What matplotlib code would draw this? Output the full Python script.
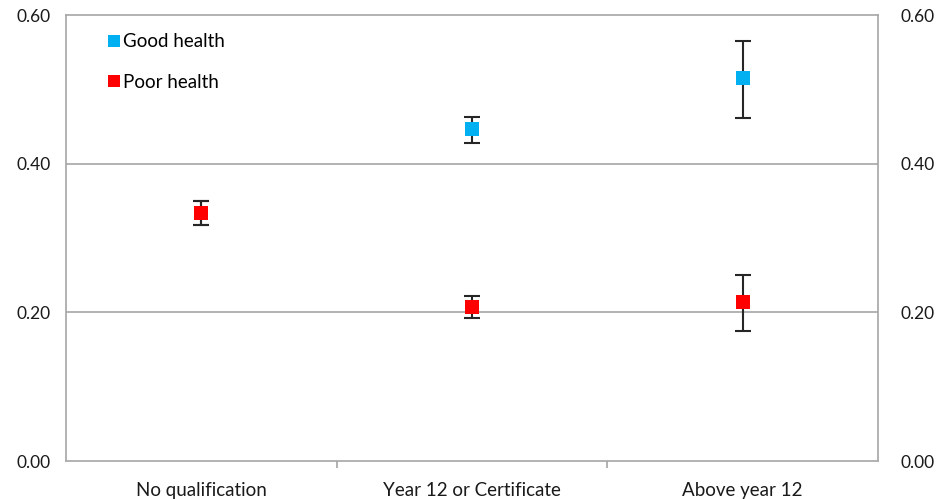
import matplotlib.pyplot as plt
import numpy as np

# Share of people by qualification level, split by self-rated health
categories = ["No qualification", "Year 12 or Certificate", "Above year 12"]

good_health = [0.334, 0.446, 0.515]
good_lower = [0.318, 0.428, 0.462]
good_upper = [0.350, 0.463, 0.565]

poor_health = [0.334, 0.207, 0.214]
poor_lower = [0.318, 0.192, 0.175]
poor_upper = [0.350, 0.222, 0.250]

y_ticks = [0.0, 0.2, 0.4, 0.6]


def main():
    plt.rcParams["font.family"] = ["Lato", "DejaVu Sans"]
    fig = plt.figure(figsize=(9.38, 4.99), dpi=100)
    ax = fig.add_axes([66 / 938, 38 / 499, 812 / 938, 446 / 499])

    x = np.arange(len(categories))
    grey = "#a6a6a6"
    text_col = "#1a1a1a"

    for vals, lo, hi, color, label in [
        (good_health, good_lower, good_upper, "#00b0f0", "Good health"),
        (poor_health, poor_lower, poor_upper, "#ff0000", "Poor health"),
    ]:
        vals = np.array(vals)
        yerr = [vals - np.array(lo), np.array(hi) - vals]
        ax.errorbar(x, vals, yerr=yerr, fmt="none", ecolor="#262626",
                    elinewidth=1.5, capsize=6, capthick=1.5, zorder=3)
        ax.plot(x, vals, "s", color=color, markersize=10, markeredgewidth=0,
                label=label, zorder=4)

    ax.set_xlim(-0.5, len(categories) - 0.5)
    ax.set_ylim(0, 0.6)

    # left value axis
    ax.set_yticks(y_ticks)
    ax.set_yticklabels([f"{t:.2f}" for t in y_ticks])
    ax.tick_params(axis="y", length=0, labelsize=12.5, colors=text_col, pad=11)
    for t in y_ticks[1:3]:
        ax.axhline(t, color=grey, linewidth=1.2, zorder=1)

    # right value axis, same scale
    ax2 = ax.twinx()
    ax2.set_ylim(ax.get_ylim())
    ax2.set_yticks(y_ticks)
    ax2.set_yticklabels([f"{t:.2f}" for t in y_ticks])
    ax2.tick_params(axis="y", length=0, labelsize=12.5, colors=text_col, pad=16)
    for side in ax2.spines.values():
        side.set_visible(False)

    ax.set_xticks(x)
    ax.set_xticklabels(categories)
    ax.set_xticks([0.5, 1.5], minor=True)
    ax.tick_params(axis="x", which="major", length=0, labelsize=13.5,
                   colors=text_col, pad=15)
    ax.tick_params(axis="x", which="minor", length=5, color=grey, width=1.2)

    for side in ["left", "right", "top", "bottom"]:
        ax.spines[side].set_color(grey)
        ax.spines[side].set_linewidth(1.2)

    ax.legend(loc="upper left", bbox_to_anchor=(0.028, 0.997), frameon=False,
              fontsize=13.5, handletextpad=0.05, labelspacing=1.25,
              handlelength=0.9, markerscale=0.9)

    plt.savefig("out.png", dpi=100)


if __name__ == "__main__":
    main()
